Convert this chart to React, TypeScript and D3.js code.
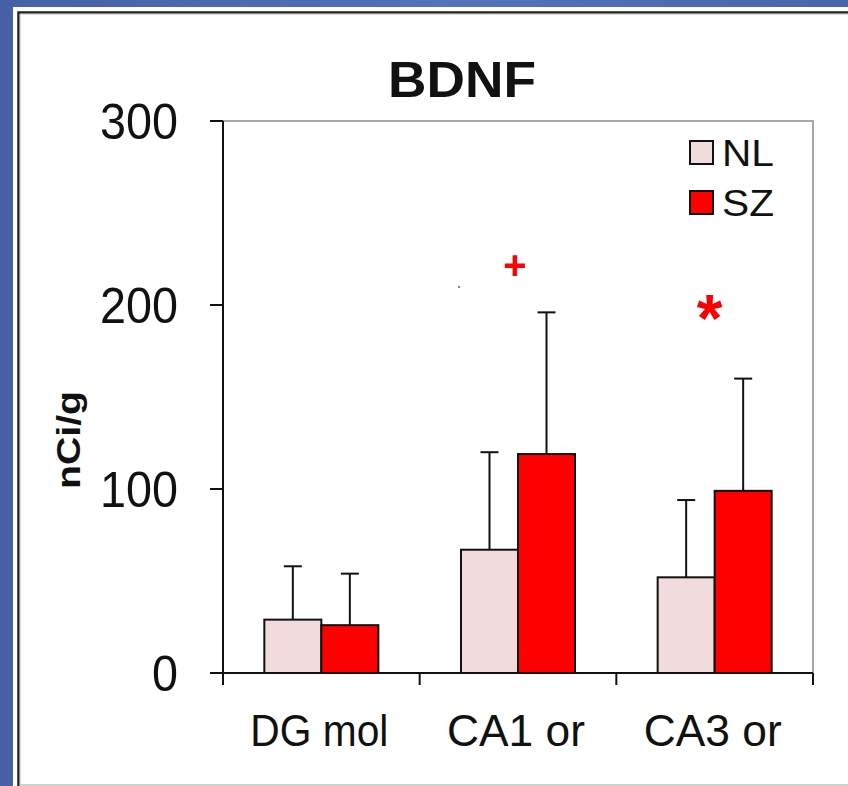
import React from "react";
import * as d3 from "d3";

// Regions and group labels
const categories = ["DG mol", "CA1 or", "CA3 or"];
const groups = ["NL", "SZ"];
// Mean BDNF signal (nCi/g) per region
const nlValues = [29, 67, 52];
const szValues = [26, 119, 99];
// Upper error bar extent (SD) above each mean
const nlErrors = [29, 53, 42];
const szErrors = [28, 77, 61];
const yTicks = [0, 100, 200, 300];
// Significance markers drawn above the SZ bars
const markers = [
  { category: "CA1 or", symbol: "+", value: 222 },
  { category: "CA3 or", symbol: "*", value: 198 },
];

const W = 848;
const H = 786;
const FONT = "'Liberation Sans', Arial, sans-serif";
const colors: Record<string, string> = { NL: "#f0dcdc", SZ: "#ff0000" };

export default function App() {
  const left = 223;
  const right = 813;
  const top = 121;
  const bottom = 673;

  const y = d3.scaleLinear().domain([0, 300]).range([bottom, top]);
  const x = d3.scaleBand<string>().domain(categories).range([left, right]).paddingInner(0).paddingOuter(0);
  const xs = d3.scaleBand<string>().domain(groups).range([0, x.bandwidth()]).paddingInner(0).paddingOuter(0.725);

  const series: Record<string, { v: number[]; e: number[] }> = {
    NL: { v: nlValues, e: nlErrors },
    SZ: { v: szValues, e: szErrors },
  };

  const boundaries = [...categories.map((c) => x(c) as number), right];

  return (
    <svg width={W} height={H} style={{ position: "absolute", left: 0, top: 0, display: "block" }}>
      <defs>
        <linearGradient id="bg" x1="0" x2="1" y1="0" y2="0">
          <stop offset="0" stopColor="#4660a6" />
          <stop offset="0.55" stopColor="#5373ba" />
          <stop offset="1" stopColor="#4a64ab" />
        </linearGradient>
      </defs>
      <rect x={0} y={0} width={W} height={H} fill="url(#bg)" />
      <rect x={13} y={7} width={W - 13} height={H - 7} fill="#ffffff" />
      {/* slide frame */}
      <path d={`M18.5,${H} V12.5 H${W}`} fill="none" stroke="#222" strokeWidth={2.5} />
      <path d={`M20,${H} V14 H${W}`} fill="none" stroke="#bbb" strokeWidth={1} />
      <line x1={20} x2={W} y1={H - 1} y2={H - 1} stroke="#d0d0d0" strokeWidth={2} />

      {/* title */}
      <text x={462} y={97} textAnchor="middle" fontFamily={FONT} fontWeight="bold" fontSize={50} fill="#111"
        textLength={148} lengthAdjust="spacingAndGlyphs">
        BDNF
      </text>

      {/* plot area border */}
      <path d={`M${left},${top} H${right} V${bottom}`} fill="none" stroke="#a8a8a8" strokeWidth={2} />

      {/* bars */}
      {groups.map((g) =>
        categories.map((c, i) => {
          const bx = (x(c) as number) + (xs(g) as number);
          const v = series[g].v[i];
          return (
            <rect
              key={g + c}
              x={bx}
              y={y(v)}
              width={xs.bandwidth()}
              height={y(0) - y(v)}
              fill={colors[g]}
              stroke="#111"
              strokeWidth={2}
            />
          );
        })
      )}

      {/* error bars */}
      {groups.map((g) =>
        categories.map((c, i) => {
          const cx = (x(c) as number) + (xs(g) as number) + xs.bandwidth() / 2;
          const v = series[g].v[i];
          const t = y(v + series[g].e[i]);
          return (
            <g key={"e" + g + c} stroke="#111" strokeWidth={2}>
              <line x1={cx} x2={cx} y1={y(v)} y2={t} />
              <line x1={cx - 9} x2={cx + 9} y1={t} y2={t} />
            </g>
          );
        })
      )}

      {/* y axis */}
      <line x1={left} x2={left} y1={top} y2={bottom + 12} stroke="#111" strokeWidth={2} />
      {yTicks.map((t) => (
        <g key={t}>
          <line x1={left - 13} x2={left} y1={y(t)} y2={y(t)} stroke="#111" strokeWidth={2} />
          <text x={178} y={y(t) + 18} textAnchor="end" fontFamily={FONT} fontSize={50} fill="#111"
            textLength={String(t).length * 26} lengthAdjust="spacingAndGlyphs">
            {t}
          </text>
        </g>
      ))}
      <text
        transform={`translate(80,${440}) rotate(-90)`}
        textAnchor="middle"
        fontFamily={FONT}
        fontWeight="bold"
        fontSize={34}
        fill="#111"
        textLength={98}
        lengthAdjust="spacingAndGlyphs"
      >
        nCi/g
      </text>

      {/* x axis */}
      <line x1={left - 13} x2={right} y1={bottom} y2={bottom} stroke="#111" strokeWidth={2} />
      {boundaries.map((b, i) => (
        <line key={i} x1={b} x2={b} y1={bottom} y2={bottom + 12} stroke="#111" strokeWidth={2} />
      ))}
      {categories.map((c) => (
        <text
          key={c}
          x={(x(c) as number) + x.bandwidth() / 2 - 2}
          y={746}
          textAnchor="middle"
          fontFamily={FONT}
          fontSize={45}
          fill="#111"
          textLength={138}
          lengthAdjust="spacingAndGlyphs"
        >
          {c}
        </text>
      ))}

      {/* legend */}
      {groups.map((g, i) => (
        <g key={"lg" + g}>
          <rect x={690} y={141 + i * 50} width={23} height={23} fill={colors[g]} stroke="#111" strokeWidth={2} />
          <text x={722} y={166 + i * 50} fontFamily={FONT} fontSize={37} fill="#111"
            textLength={52} lengthAdjust="spacingAndGlyphs">
            {g}
          </text>
        </g>
      ))}

      {/* significance markers */}
      {markers.map((m) => {
        const cx = (x(m.category) as number) + x.bandwidth() / 2;
        const star = m.symbol === "*";
        return (
          <text
            key={m.category}
            x={cx - (star ? 5 : 3)}
            y={y(m.value) + (star ? 32 : 14)}
            textAnchor="middle"
            fontFamily={FONT}
            fontWeight="bold"
            fontSize={star ? 66 : 40}
            fill="#ff0000"
          >
            {m.symbol}
          </text>
        );
      })}
      <rect x={458} y={286} width={2} height={2} fill="#5b8fd0" />
    </svg>
  );
}
